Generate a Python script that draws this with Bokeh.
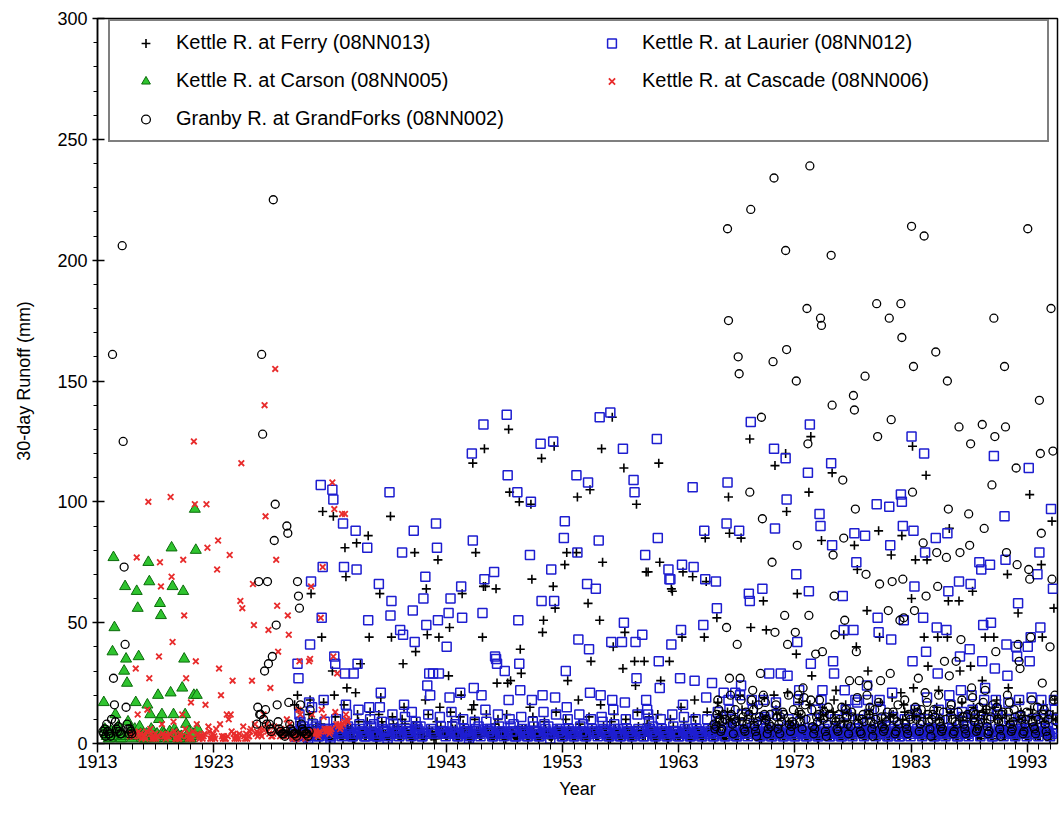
import numpy as np
from bokeh.plotting import figure
from bokeh.models import FixedTicker, Legend, LegendItem, ColumnDataSource, Range1d
from bokeh.embed import file_html
from bokeh.resources import INLINE

N = None  # month without record

# 30-day runoff (mm), one row of 12 monthly values per year
FERRY_START = 1929
FERRY = [
    [N, N, N, N, N, N, N, N, N, 4, 3, 16],
    [3, 2, 20, 14, 9, 7, 5, 4, 6, 5, 3, 2],
    [2, 3, 12, 18, 62, 10, 6, 4, 3, 7, 4, 3],
    [3, 2, 8, 44, 96, 17, 6, 5, 4, 5, 3, 2],
    [2, 3, 30, 94, 20, 11, 5, 4, 5, 4, 3, 3],
    [3, 2, 16, 81, 69, 23, 7, 5, 3, 6, 3, 2],
    [2, 2, 21, 83, 12, 9, 6, 33, 4, 4, 5, 3],
    [3, 3, 9, 86, 44, 13, 6, 4, 5, 5, 3, 2],
    [2, 3, 12, 62, 19, 9, 7, 4, 3, 4, 3, 3],
    [2, 3, 94, 44, 11, 8, 6, 4, 4, 7, 3, 3],
    [3, 2, 10, 33, 15, 8, 5, 5, 4, 4, 3, 2],
    [3, 2, 7, 79, 38, 9, 6, 4, 6, 4, 3, 3],
    [2, 3, 18, 64, 45, 12, 6, 4, 3, 5, 3, 2],
    [3, 2, 9, 76, 44, 15, 7, 4, 5, 4, 4, 3],
    [3, 3, 28, 48, 13, 9, 6, 5, 4, 6, 3, 3],
    [2, 3, 11, 20, 62, 8, 6, 4, 4, 4, 3, 2],
    [3, 2, 14, 116, 16, 10, 79, 5, 4, 5, 3, 3],
    [3, 44, 65, 122, 65, 12, 6, 4, 3, 4, 3, 3],
    [2, 3, 8, 64, 25, 10, 6, 4, 5, 5, 3, 2],
    [3, 2, 12, 25, 130, 104, 26, 5, 4, 4, 3, 3],
    [3, 2, 7, 100, 39, 29, 6, 4, 4, 6, 4, 3],
    [2, 3, 15, 99, 68, 11, 7, 4, 3, 4, 3, 2],
    [3, 3, 118, 46, 51, 9, 6, 5, 4, 4, 3, 3],
    [2, 3, 65, 123, 56, 13, 6, 5, 4, 5, 3, 3],
    [3, 2, 74, 10, 79, 26, 6, 4, 5, 4, 3, 2],
    [3, 3, 79, 102, 18, 8, 6, 4, 3, 4, 4, 3],
    [2, 2, 58, 11, 105, 34, 6, 4, 4, 5, 3, 3],
    [3, 3, 51, 16, 122, 75, 7, 4, 4, 6, 3, 2],
    [3, 2, 9, 135, 40, 12, 6, 5, 4, 4, 3, 3],
    [2, 3, 31, 114, 46, 10, 6, 5, 3, 4, 3, 2],
    [3, 3, 34, 24, 99, 13, 7, 4, 4, 5, 3, 3],
    [34, 3, 71, 8, 71, 11, 6, 4, 5, 4, 3, 2],
    [3, 2, 12, 116, 75, 26, 6, 4, 4, 5, 4, 3],
    [2, 2, 34, 10, 64, 63, 7, 4, 3, 4, 3, 3],
    [3, 3, 15, 44, 71, 9, 6, 5, 4, 6, 3, 2],
    [2, 3, 69, 11, 18, 8, 6, 5, 4, 4, 3, 3],
    [2, 3, 44, 85, 67, 13, 6, 4, 4, 5, 3, 3],
    [3, 2, 9, 52, 17, 12, 7, 4, 3, 4, 3, 2],
    [3, 3, 13, 102, 87, 10, 7, 4, 5, 4, 3, 3],
    [2, 3, 10, 20, 85, 14, 6, 5, 4, 5, 3, 3],
    [3, 126, 48, 12, 16, 9, 6, 4, 4, 4, 3, 2],
    [3, 2, 11, 59, 19, 10, 47, 5, 4, 6, 3, 3],
    [2, 3, 20, 115, 14, 12, 6, 4, 3, 4, 4, 3],
    [2, 3, 120, 96, 21, 9, 6, 5, 4, 4, 3, 2],
    [3, 37, 62, 12, 17, 11, 7, 4, 5, 4, 3, 3],
    [3, 2, 104, 16, 127, 28, 6, 4, 4, 5, 3, 2],
    [2, 3, 10, 84, 15, 12, 6, 5, 4, 4, 3, 3],
    [3, 3, 112, 13, 18, 9, 22, 5, 3, 4, 3, 3],
    [3, 2, 45, 9, 16, 13, 6, 4, 4, 6, 3, 2],
    [3, 82, 12, 40, 72, 10, 6, 4, 5, 4, 3, 3],
    [2, 3, 55, 30, 14, 12, 7, 4, 4, 5, 3, 3],
    [3, 2, 88, 44, 17, 9, 6, 4, 3, 5, 4, 2],
    [3, 3, 11, 78, 19, 12, 6, 5, 4, 4, 3, 3],
    [3, 21, 86, 10, 16, 13, 6, 4, 4, 5, 3, 3],
    [60, 123, 23, 14, 76, 11, 6, 4, 4, 4, 3, 2],
    [3, 44, 12, 111, 76, 32, 7, 4, 3, 5, 3, 3],
    [2, 3, 15, 44, 22, 10, 6, 5, 4, 4, 3, 3],
    [2, 44, 59, 89, 13, 12, 6, 5, 4, 6, 3, 2],
    [3, 59, 30, 11, 17, 9, 6, 4, 5, 5, 3, 3],
    [3, 32, 9, 63, 15, 12, 6, 4, 3, 4, 4, 2],
    [3, 26, 13, 10, 44, 14, 7, 4, 4, 4, 3, 3],
    [2, 44, 15, 12, 18, 10, 6, 5, 4, 5, 3, 3],
    [3, 3, 12, 70, 23, 9, 6, 5, 4, 4, 3, 2],
    [2, 3, 54, 10, 17, 13, 6, 4, 4, 6, 3, 3],
    [3, 2, 103, 14, 11, 12, 6, 4, 3, 5, 3, 3],
    [3, 3, 74, 44, 16, 9, 7, 4, 4, 4, 3, 2],
    [3, 92, 12, 56, 18, 10, 6, N, N, N, N, N],
]

LAURIER_START = 1929
LAURIER = [
    [N, N, N, N, N, N, N, N, N, 5, 4, 3],
    [3, 3, 33, 27, 12, 9, 6, 5, 7, 6, 4, 3],
    [3, 2, 17, 41, 67, 15, 8, 6, 5, 7, 4, 3],
    [3, 4, 107, 52, 73, 18, 9, 6, 4, 6, 5, 3],
    [2, 3, 105, 101, 36, 33, 10, 6, 5, 5, 4, 4],
    [3, 91, 73, 29, 16, 12, 7, 5, 4, 6, 3, 3],
    [29, 4, 88, 72, 33, 14, 8, 6, 5, 5, 4, 3],
    [3, 3, 81, 51, 15, 10, 7, 5, 4, 8, 4, 3],
    [3, 3, 66, 15, 21, 9, 6, 5, 5, 5, 4, 2],
    [3, 104, 53, 59, 12, 8, 6, 5, 4, 6, 4, 3],
    [47, 4, 79, 45, 16, 11, 6, 5, 5, 5, 4, 3],
    [13, 55, 88, 42, 9, 7, 6, 4, 5, 7, 3, 3],
    [60, 4, 69, 49, 24, 12, 29, 20, 6, 5, 29, 4],
    [4, 91, 81, 51, 29, 11, 7, 5, 5, 5, 4, 3],
    [40, 4, 54, 19, 60, 13, 7, 5, 4, 8, 4, 3],
    [3, 4, 21, 65, 52, 10, 6, 5, 5, 5, 4, 2],
    [3, 4, 120, 84, 23, 9, 6, 5, 4, 7, 4, 3],
    [20, 54, 132, 68, 14, 9, 6, 5, 5, 6, 4, 3],
    [3, 71, 36, 35, 33, 12, 7, 5, 4, 5, 4, 3],
    [30, 4, 136, 111, 18, 10, 7, 5, 5, 8, 3, 3],
    [3, 104, 51, 33, 22, 11, 6, 5, 4, 5, 4, 3],
    [3, 4, 78, 100, 18, 9, 7, 5, 5, 5, 4, 3],
    [3, 124, 59, 20, 13, 8, 6, 5, 4, 7, 4, 2],
    [72, 4, 125, 59, 19, 12, 6, 5, 5, 6, 4, 3],
    [3, 85, 92, 30, 15, 10, 6, 5, 4, 5, 4, 3],
    [3, 4, 111, 79, 43, 12, 7, 5, 5, 8, 4, 3],
    [3, 66, 108, 39, 21, 10, 6, 5, 4, 5, 64, 4],
    [3, 84, 135, 20, 11, 9, 6, 5, 5, 5, 4, 3],
    [3, 137, 42, 18, 14, 8, 6, 5, 4, 6, 4, 3],
    [3, 42, 122, 50, 17, 10, 6, 5, 5, 5, 4, 3],
    [3, 109, 104, 42, 27, 12, 6, 5, 4, 5, 45, 3],
    [3, 78, 18, 14, 12, 9, 6, 5, 5, 7, 4, 3],
    [3, 126, 85, 34, 23, 10, 6, 5, 4, 5, 4, 3],
    [3, 72, 68, 68, 41, 12, 7, 5, 5, 5, 4, 3],
    [3, 27, 47, 74, 16, 11, 6, 5, 4, 6, 4, 3],
    [3, 4, 106, 73, 26, 10, 6, 5, 5, 5, 4, 3],
    [3, 49, 88, 68, 19, 10, 6, 5, 4, 5, 25, 3],
    [3, 4, 67, 56, 13, 9, 6, 5, 5, 5, 21, 3],
    [3, 91, 108, 18, 14, 10, 6, 5, 4, 7, 21, 3],
    [3, 4, 88, 20, 24, 12, 6, 5, 5, 5, 4, 3],
    [62, 59, 133, 18, 14, 8, 6, 5, 4, 5, 4, 3],
    [3, 4, 64, 18, 11, 10, 6, 5, 5, 29, 4, 3],
    [3, 4, 122, 89, 17, 12, 6, 5, 4, 29, 4, 3],
    [3, 4, 118, 101, 28, 10, 6, 5, 5, 5, 4, 3],
    [3, 70, 42, 18, 22, 9, 6, 5, 4, 5, 4, 3],
    [3, 112, 63, 132, 33, 10, 6, 5, 5, 14, 4, 3],
    [3, 95, 90, 18, 22, 11, 6, 5, 4, 5, 4, 3],
    [3, 116, 82, 34, 29, 10, 6, 5, 5, 5, 4, 3],
    [3, 61, 47, 22, 14, 12, 6, 5, 4, 6, 4, 3],
    [47, 87, 18, 75, 17, 10, 6, 5, 5, 5, 4, 3],
    [86, 4, 24, 18, 12, 9, 6, 5, 4, 5, 4, 3],
    [99, 52, 46, 18, 14, 10, 6, 5, 5, 7, 4, 3],
    [3, 98, 82, 43, 21, 11, 6, 5, 4, 5, 4, 3],
    [3, 103, 100, 90, 51, 10, 6, 5, 5, 5, 4, 3],
    [127, 34, 88, 65, 14, 12, 6, 5, 4, 5, 4, 3],
    [52, 120, 79, 38, 19, 10, 6, 5, 5, 6, 4, 3],
    [3, 85, 48, 29, 14, 9, 6, 5, 4, 5, 4, 3],
    [47, 87, 63, 20, 16, 10, 6, 5, 5, 5, 4, 3],
    [3, 67, 36, 22, 13, 11, 6, 5, 4, 7, 4, 3],
    [39, 66, 20, 14, 12, 10, 6, 5, 5, 5, 75, 3],
    [72, 34, 49, 18, 23, 10, 6, 5, 4, 74, 50, 3],
    [3, 119, 31, 18, 14, 12, 6, 5, 5, 5, 4, 3],
    [94, 76, 41, 28, 17, 10, 6, 5, 4, 5, 4, 3],
    [40, 36, 58, 18, 11, 9, 6, 5, 5, 6, 4, 3],
    [40, 114, 34, 44, 19, 10, 6, 5, 4, 5, 70, 3],
    [79, 48, 18, 14, 12, 10, 6, 5, 5, 5, 4, 3],
    [97, 4, 64, 18, 14, 10, 6, N, N, N, N, N],
]

CARSON_START = 1913
CARSON = [
    [N, N, N, N, N, N, 17, 6, 4, 3, 5, 2],
    [2, 3, 5, 38, 77, 48, 12, 6, 4, 7, 3, 2],
    [2, 4, 3, 30, 65, 35, 25, 9, 4, 3, 6, 2],
    [3, 3, 6, 17, 63, 56, 36, 7, 4, 3, 2, 4],
    [2, 2, 4, 16, 75, 67, 12, 6, 4, 5, 3, 2],
    [2, 4, 20, 10, 58, 53, 12, 5, 4, 3, 3, 2],
    [3, 2, 5, 21, 81, 65, 12, 6, 4, 4, 3, 2],
    [2, 2, 3, 23, 63, 35, 12, 8, 3, 3, 5, 2],
    [2, 3, 4, 20, 97, 80, 20, 6, N, N, N, N],
]

CASCADE_START = 1915
CASCADE = [
    [N, N, N, N, N, N, N, N, N, 3, 4, 4],
    [3, 3, 4, 31, 77, 12, 5, 3, 4, 2, 3, 3],
    [3, 2, 5, 14, 100, 27, 6, 4, 2, 3, 2, 4],
    [2, 3, 3, 36, 75, 65, 8, 4, 3, 3, 2, 3],
    [3, 3, 4, 102, 69, 42, 9, 5, 2, 2, 3, 2],
    [2, 4, 3, 12, 76, 53, 6, 27, 3, 2, 4, 2],
    [17, 2, 5, 125, 99, 34, 8, 4, 3, 2, 3, 3],
    [2, 3, 4, 16, 99, 81, 7, 5, 2, 3, 2, 4],
    [3, 2, 6, 72, 84, 31, 8, 20, 3, 2, 3, 2],
    [2, 12, 3, 10, 78, 12, 5, 26, 4, 2, 3, 2],
    [3, 2, 4, 59, 116, 56, 7, 3, 2, 4, 2, 3],
    [3, 5, 6, 26, 66, 49, 8, 4, 5, 3, 4, 6],
    [4, 3, 6, 12, 140, 94, 8, 5, 47, 4, 23, 3],
    [3, 4, 7, 155, 76, 57, 38, 5, 3, 6, 4, 3],
    [4, 3, 5, 10, 53, 45, 8, 4, 3, 2, 3, 4],
    [2, 2, 3, 14, 34, 12, 4, 3, 3, 4, 2, 3],
    [3, 3, 34, 35, 65, 12, 5, 4, 4, 5, 4, 3],
    [4, 5, 52, 14, 73, 11, 6, 5, 6, 5, 6, 4],
    [5, 6, 108, 36, 97, 13, 8, 29, 7, 8, 6, 7],
    [95, 8, 9, 95, 12, 10, 9, N, N, N, N, N],
]

# Granby River record comes in three separate periods
GRANBY_A_START = 1913
GRANBY_A = [
    [N, N, N, N, N, 5, 4, 6, 3, 8, 5, 4],
    [4, 3, 10, 161, 27, 16, 9, 6, 5, 7, 5, 4],
    [4, 206, 125, 73, 41, 15, 8, 6, 4, 6, 5, 4],
]
GRANBY_B_START = 1926
GRANBY_B = [
    [N, N, N, N, N, N, N, N, 8, 15, 67, 12],
    [12, 161, 128, 10, 30, 14, 8, 67, 33, 8, 6, 5],
    [36, 225, 84, 99, 49, 16, 9, 6, 5, 5, 4, 4],
    [4, 3, 5, 90, 87, 17, 8, 6, 5, 5, 4, 4],
    [4, 3, 67, 61, 56, 16, 8, 6, 5, 5, 4, 4],
    [4, 3, 5, 14, N, N, N, N, N, N, N, N],
]
GRANBY_C_START = 1966
GRANBY_C = [
    [8, 6, 7, 12, 18, 14, 10, 5, 6, 9, 12, 10],
    [10, 48, 213, 175, 27, 20, 12, 8, 4, 10, 14, 9],
    [41, 160, 153, 27, 18, 9, 11, 6, 5, 13, 8, 10],
    [12, 104, 221, 18, 22, 14, 7, 5, 3, 9, 16, 11],
    [29, 135, 93, 20, 12, 17, 10, 4, 6, 8, 12, 7],
    [75, 158, 234, 46, 16, 11, 6, 8, 4, 11, 9, 13],
    [12, 53, 204, 163, 41, 20, 8, 5, 7, 9, 14, 8],
    [46, 150, 82, 20, 13, 9, 12, 6, 23, 19, 16, 10],
    [180, 124, 53, 239, 18, 14, 7, 4, 6, 37, 11, 9],
    [12, 18, 176, 173, 38, 10, 13, 5, 3, 8, 15, 12],
    [12, 202, 140, 78, 61, 45, 9, 6, 5, 12, 10, 8],
    [15, 109, 85, 51, 14, 11, 8, 4, 26, 7, 13, 11],
    [144, 138, 97, 38, 19, 8, 26, 5, 4, 10, 12, 9],
    [152, 70, 20, 24, 12, 15, 9, 6, 3, 8, 14, 10],
    [182, 127, 17, 66, 26, 11, 7, 5, 6, 11, 9, 13],
    [55, 176, 29, 134, 67, 13, 10, 4, 5, 9, 16, 8],
    [51, 182, 168, 68, 52, 18, 8, 6, 4, 12, 11, 10],
    [214, 104, 156, 55, 15, 10, 13, 27, 5, 8, 14, 9],
    [83, 210, 21, 61, 17, 12, 9, 6, 3, 10, 12, 14],
    [11, 162, 79, 65, 20, 9, 7, 5, 6, 13, 34, 10],
    [77, 150, 97, 28, 14, 16, 10, 4, 5, 9, 34, 8],
    [13, 131, 79, 43, 18, 11, 8, 6, 4, 11, 12, 95],
    [82, 124, 23, 19, 13, 9, 12, 5, 6, 8, 15, 10],
    [12, 132, 17, 89, 22, 14, 7, 4, 5, 10, 11, 107],
    [16, 176, 127, 38, 15, 10, 9, 6, 3, 12, 13, 9],
    [156, 131, 79, 20, 13, 17, 8, 5, 6, 9, 14, 11],
    [114, 74, 41, 34, 31, 12, 10, 4, 5, 8, 10, 13],
    [213, 72, 68, 44, 18, 9, 7, 6, 4, 11, 15, 10],
    [142, 120, 87, 25, 12, 14, 8, 5, 3, 10, 12, 40],
    [180, 68, 121, 18, 20, 11, 9, N, N, N, N, N],
]

X_TICKS = [1913, 1923, 1933, 1943, 1953, 1963, 1973, 1983, 1993]
Y_TICKS = [0, 50, 100, 150, 200, 250, 300]

FONT = "Liberation Sans"


def monthly(blocks):
    """Flatten (start_year, rows) blocks into decimal-year / value columns."""
    t, v = [], []
    for start, rows in blocks:
        for i, row in enumerate(rows):
            for m, val in enumerate(row):
                if val is None:
                    continue
                t.append(start + i + (m + 0.5) / 12.0)
                v.append(val)
    return ColumnDataSource(dict(t=t, v=v))


p = figure(width=1063, height=835, output_backend="svg", toolbar_location=None,
           x_range=Range1d(1913, 1995.6), y_range=Range1d(0, 300),
           min_border_left=97, min_border_right=6, min_border_top=18, min_border_bottom=92)
p.background_fill_color = "white"
p.border_fill_color = "white"
p.outline_line_color = "black"
p.outline_line_width = 1.5
p.grid.visible = False

# series in drawing order
r_ferry = p.scatter("t", "v", source=monthly([(FERRY_START, FERRY)]), marker="cross",
                    size=9, line_color="black", line_width=1.6)
r_laurier = p.scatter("t", "v", source=monthly([(LAURIER_START, LAURIER)]), marker="square",
                      size=9, line_color="#1e1ed0", fill_color=None, line_width=1.5)
r_carson = p.scatter("t", "v", source=monthly([(CARSON_START, CARSON)]), marker="triangle",
                     size=11, line_color="#0b6b0b", fill_color="#2fc42f", line_width=1)
r_cascade = p.scatter("t", "v", source=monthly([(CASCADE_START, CASCADE)]), marker="x",
                      size=8, line_color="#e82c2c", line_width=1.8)
r_granby = p.scatter("t", "v", source=monthly([(GRANBY_A_START, GRANBY_A),
                                                (GRANBY_B_START, GRANBY_B),
                                                (GRANBY_C_START, GRANBY_C)]),
                     marker="circle", size=8, line_color="black", fill_color=None, line_width=1.3)

# axes
xa = p.xaxis[0]
xa.ticker = FixedTicker(ticks=X_TICKS, minor_ticks=list(range(1913, 1996)))
xa.axis_label = "Year"
ya = p.yaxis[0]
ya.ticker = FixedTicker(ticks=Y_TICKS, minor_ticks=list(range(0, 301, 10)))
ya.axis_label = "30-day Runoff (mm)"
for ax in (xa, ya):
    ax.axis_line_color = "black"
    ax.axis_line_width = 1.5
    ax.major_tick_line_color = "black"
    ax.minor_tick_line_color = "black"
    ax.major_tick_line_width = 1.5
    ax.minor_tick_line_width = 1
    ax.major_label_text_font = FONT
    ax.major_label_text_font_size = "18px"
    ax.major_label_text_color = "black"
    ax.axis_label_text_font = FONT
    ax.axis_label_text_font_size = "18px"
    ax.axis_label_text_font_style = "normal"
    ax.axis_label_text_color = "black"
xa.major_tick_out = 9
xa.major_tick_in = 0
xa.minor_tick_out = 6
xa.minor_tick_in = 0
xa.major_label_standoff = 2
xa.axis_label_standoff = 8
ya.major_tick_out = 5
ya.major_tick_in = 7
ya.minor_tick_out = 4
ya.minor_tick_in = 0
ya.major_label_standoff = 5
ya.axis_label_standoff = 20

# two-column legend; columns fill top to bottom
legend = Legend(items=[
    LegendItem(label="Kettle R. at Ferry (08NN013)", renderers=[r_ferry]),
    LegendItem(label="Kettle R. at Carson (08NN005)", renderers=[r_carson]),
    LegendItem(label="Granby R. at GrandForks (08NN002)", renderers=[r_granby]),
    LegendItem(label="Kettle R. at Laurier (08NN012)", renderers=[r_laurier]),
    LegendItem(label="Kettle R. at Cascade (08NN006)", renderers=[r_cascade]),
], location=(11, 601), ncols=2)
legend.label_text_font = FONT
legend.label_text_font_size = "20px"
legend.label_text_color = "black"
legend.glyph_width = 51
legend.glyph_height = 22
legend.label_height = 22
legend.label_width = 395
legend.label_standoff = 5
legend.spacing = 15
legend.padding = 10
legend.margin = 0
legend.border_line_color = "black"
legend.border_line_width = 2
legend.background_fill_color = "white"
legend.background_fill_alpha = 1
p.add_layout(legend, "center")

open("out.html", "w").write(file_html(p, INLINE))
